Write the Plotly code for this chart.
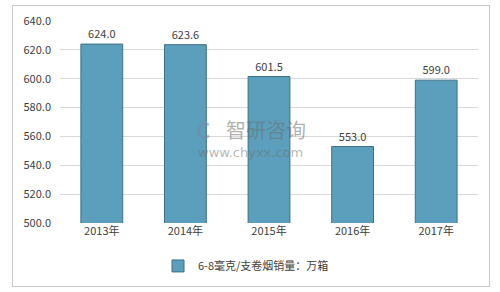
import plotly.graph_objects as go

categories = ["2013年", "2014年", "2015年", "2016年", "2017年"]
values = [624.0, 623.6, 601.5, 553.0, 599.0]
series_name = "6-8毫克/支卷烟销量：万箱"
y_ticks = [500, 520, 540, 560, 580, 600, 620, 640]

FONT = "Noto Sans CJK SC"

fig = go.Figure()
fig.add_trace(go.Bar(
    x=categories, y=values, name=series_name,
    marker=dict(color="#5b9fbd", line=dict(color="#3f6f85", width=1)),
    text=[f"{v:.1f}" for v in values], textposition="outside",
    textfont=dict(size=11, color="#404040", family=FONT),
    cliponaxis=False,
))

L, R, T, B = 60, 22, 17, 68
W, H = 500, 292
pw, ph = W - L - R, H - T - B

def px(x):
    return (x - L) / pw

def py(y):
    return (H - B - y) / ph

# outer chart frame (annotation box, not clipped)
fig.add_annotation(xref="paper", yref="paper", x=px(251), y=py(145), text="&nbsp;",
                   showarrow=False, width=476, height=280, borderpad=0,
                   bordercolor="#c8c8c8", borderwidth=1, xanchor="center", yanchor="middle")

# watermark
fig.add_annotation(xref="paper", yref="paper", x=px(194), y=py(128), text="<b>C</b>",
                   showarrow=False, font=dict(size=22, color="rgba(120,140,170,0.55)", family=FONT))
fig.add_annotation(xref="paper", yref="paper", x=px(266), y=py(128), text="智研咨询",
                   showarrow=False, font=dict(size=20, color="rgba(110,110,110,0.55)", family=FONT))
fig.add_annotation(xref="paper", yref="paper", x=px(250), y=py(161), text="www.chyxx.com",
                   showarrow=False, font=dict(size=13, color="rgba(110,110,110,0.5)", family="DejaVu Sans"))

fig.update_layout(
    width=W, height=H,
    margin=dict(l=L, r=R, t=T, b=B),
    paper_bgcolor="white", plot_bgcolor="white",
    bargap=0.5,
    showlegend=True,
    legend=dict(orientation="h", x=px(246), xanchor="center", y=py(268), yanchor="middle",
                font=dict(size=11, color="#404040", family=FONT), itemwidth=30),
    font=dict(family=FONT, size=11, color="#404040"),
    xaxis=dict(showgrid=False, showline=False, ticks="", tickfont=dict(size=11, color="#404040")),
    yaxis=dict(range=[500, 640], tickvals=y_ticks, tickformat=".1f",
               showgrid=True, gridcolor="#d9d9d9", gridwidth=1, zeroline=False,
               showline=False, ticks="", ticklabelstandoff=8,
               tickfont=dict(size=11, color="#404040")),
)

fig.write_html("out.html")
